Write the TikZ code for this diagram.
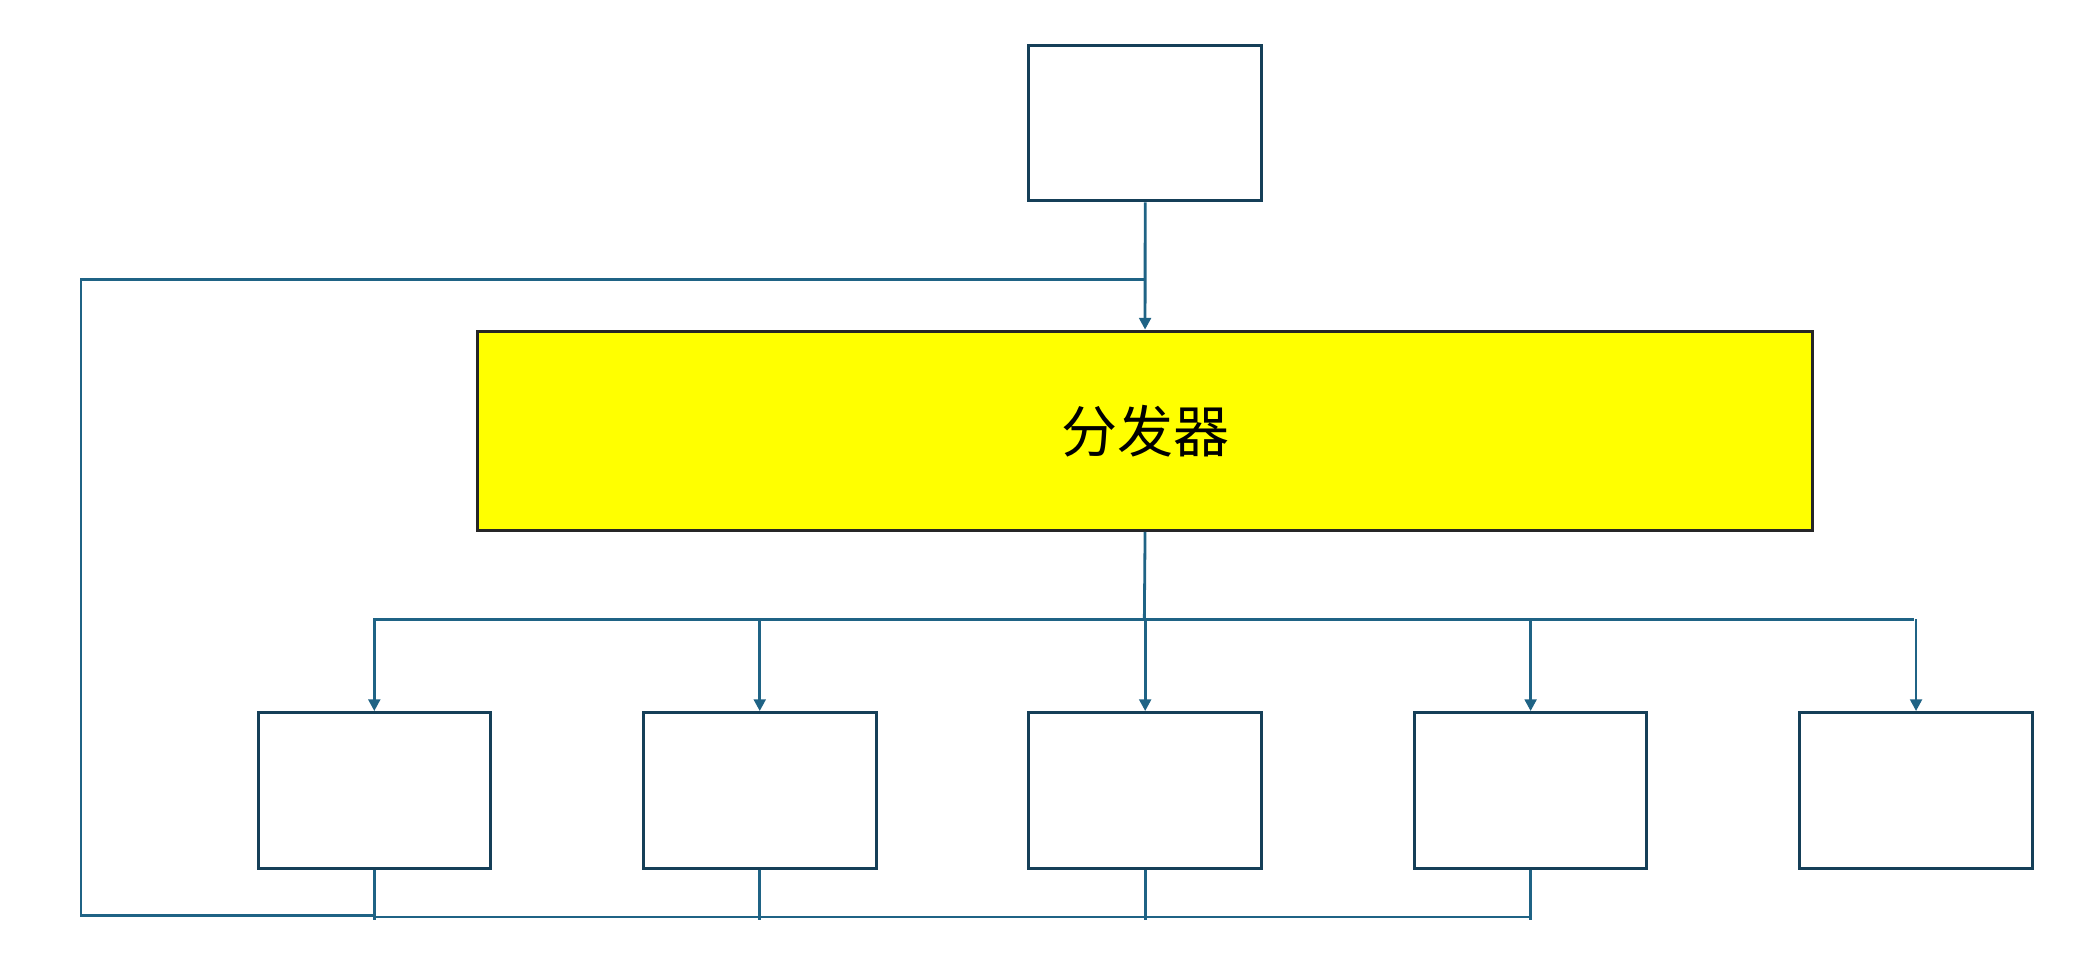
\documentclass[tikz,border=0pt]{standalone}
\usepackage{fontspec}
\newfontfamily\cjk{Noto Sans CJK SC}
\usetikzlibrary{arrows.meta}
\definecolor{boxline}{HTML}{153F58}
\definecolor{wire}{HTML}{1F6385}
\definecolor{distfill}{HTML}{FFFF00}
\tikzset{
  unit/.style={draw=boxline,line width=1.3pt,minimum width=3.5cm,minimum height=2.34cm,anchor=north west,inner sep=0pt},
  conn/.style={draw=wire,line width=1.2pt},
  arr/.style={conn,-{Triangle[length=5pt,width=5pt]}}
}
\begin{document}
\begin{tikzpicture}[x=0.02cm,y=-0.02cm]
  \useasboundingbox (0,0) rectangle (1568,718);
  \node[unit] (src) at (773,33) {};
  \node[draw=black!85,line width=1.3pt,fill=distfill,minimum width=20.1cm,minimum height=3cm,anchor=north west,inner sep=0pt] (dist) at (358,248) {\cjk\fontsize{24}{28}\selectfont 分发器};
  \node[unit] (w1) at (193,535) {};
  \node[unit] (w2) at (483,535) {};
  \node[unit] (w3) at (773,535) {};
  \node[unit] (w4) at (1063,535) {};
  \node[unit] (w5) at (1353,535) {};
  % feed into distributor
  \draw[arr] (src.south) -- (dist.north);
  % bus to workers
  \coordinate (bus) at (861,466);
  \draw[conn] (dist.south) -- (bus);
  \draw[conn] (281,466) -- (1440,466);
  \foreach \w in {w1,w2,w3,w4,w5}
    \draw[arr] (\w.north |- bus) -- (\w.north);
  % return path
  \foreach \w in {w1,w2,w3,w4}
    \draw[conn] (\w.south) -- ++(0,38);
  \draw[conn] (281,690) -- (1151,690);
  \draw[conn] (281,689) -- (61,689) -- (61,210) -- (861,210);
\end{tikzpicture}
\end{document}
